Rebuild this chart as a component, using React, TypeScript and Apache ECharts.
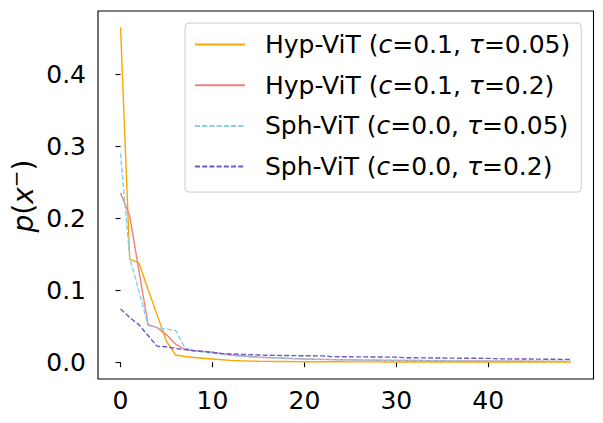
import React, { useEffect, useRef } from "react";
import * as echarts from "echarts";

const xTicks = [0, 10, 20, 30, 40];
const yTicks = [0, 0.1, 0.2, 0.3, 0.4];

const seriesNames = [
  "Hyp-ViT (c=0.1, τ=0.05)",
  "Hyp-ViT (c=0.1, τ=0.2)",
  "Sph-ViT (c=0.0, τ=0.05)",
  "Sph-ViT (c=0.0, τ=0.2)",
];
const legendRich = [
  "{n|Hyp-ViT (}{i|c}{n|=0.1, }{i|τ}{n|=0.05)}",
  "{n|Hyp-ViT (}{i|c}{n|=0.1, }{i|τ}{n|=0.2)}",
  "{n|Sph-ViT (}{i|c}{n|=0.0, }{i|τ}{n|=0.05)}",
  "{n|Sph-ViT (}{i|c}{n|=0.0, }{i|τ}{n|=0.2)}",
];

const hyp005 = [
  0.465, 0.143, 0.138, 0.101, 0.065, 0.029, 0.010, 0.008, 0.0065, 0.0055,
  0.0045, 0.0035, 0.0025, 0.002, 0.0016, 0.0013, 0.0011, 0.001, 0.0009, 0.0008,
  0.0007, 0.0007, 0.0006, 0.0006, 0.0006, 0.0005, 0.0005, 0.0005, 0.0005, 0.0004,
  0.0004, 0.0004, 0.0004, 0.0004, 0.0003, 0.0003, 0.0003, 0.0003, 0.0003, 0.0003,
  0.0003, 0.0003, 0.0003, 0.0003, 0.0003, 0.0003, 0.0003, 0.0003, 0.0003, 0.0003,
];
const hyp02 = [
  0.235, 0.203, 0.127, 0.052, 0.048, 0.038, 0.025, 0.018, 0.016, 0.015,
  0.014, 0.012, 0.010, 0.009, 0.008, 0.007, 0.0065, 0.006, 0.0055, 0.005,
  0.0045, 0.0042, 0.004, 0.0037, 0.0035, 0.0033, 0.003, 0.0029, 0.0028, 0.0026,
  0.0025, 0.0024, 0.0023, 0.0022, 0.0021, 0.002, 0.0019, 0.0018, 0.0017, 0.0016,
  0.0016, 0.0015, 0.0014, 0.0014, 0.0013, 0.0013, 0.0012, 0.0012, 0.0011, 0.0011,
];
const sph005 = [
  0.290, 0.145, 0.099, 0.051, 0.048, 0.046, 0.044, 0.020, 0.016, 0.014,
  0.0125, 0.011, 0.0095, 0.0085, 0.0075, 0.0068, 0.0062, 0.0057, 0.0052, 0.0048,
  0.0044, 0.0041, 0.0038, 0.0036, 0.0034, 0.0032, 0.003, 0.0029, 0.0028, 0.0027,
  0.0026, 0.0025, 0.0024, 0.0023, 0.0022, 0.0021, 0.002, 0.0019, 0.0018, 0.0018,
  0.0017, 0.0016, 0.0016, 0.0015, 0.0015, 0.0014, 0.0014, 0.0013, 0.0013, 0.0012,
];
const sph02 = [
  0.074, 0.062, 0.052, 0.037, 0.022, 0.0215, 0.019, 0.0175, 0.016, 0.015,
  0.0135, 0.012, 0.0115, 0.011, 0.0105, 0.010, 0.0097, 0.0095, 0.0093, 0.0091,
  0.009, 0.0089, 0.0088, 0.0078, 0.0076, 0.0075, 0.0074, 0.0073, 0.0072, 0.0071,
  0.007, 0.0062, 0.0061, 0.006, 0.0059, 0.0058, 0.0057, 0.0056, 0.0055, 0.0054,
  0.0053, 0.0047, 0.0046, 0.0045, 0.0044, 0.0043, 0.0042, 0.0041, 0.004, 0.004,
];

const allValues = [hyp005, hyp02, sph005, sph02];
const colors = ["#FFA500", "#F08080", "#87CEEB", "#6A5ACD"];
const dashed = [false, false, true, true];

const FONT = "DejaVu Sans";

export default function App() {
  const ref = useRef<HTMLDivElement>(null);
  useEffect(() => {
    if (!ref.current) return;
    const chart = echarts.init(ref.current, null, { renderer: "svg" });
    const richMap: Record<string, string> = {};
    seriesNames.forEach((n, i) => (richMap[n] = legendRich[i]));
    chart.setOption({
      animation: false,
      backgroundColor: "#ffffff",
      textStyle: { fontFamily: FONT },
      grid: {
        left: 98,
        top: 11,
        right: 9.5,
        bottom: 44,
        show: true,
        borderColor: "#000000",
        borderWidth: 1.1,
        backgroundColor: "transparent",
      },
      xAxis: {
        type: "value",
        min: -2.45,
        max: 51.45,
        splitLine: { show: false },
        axisLine: { show: false },
        axisTick: {
          show: true,
          inside: false,
          length: 5,
          customValues: xTicks,
          lineStyle: { color: "#000", width: 1.1 },
        },
        axisLabel: {
          customValues: xTicks,
          color: "#000",
          fontSize: 25,
          fontFamily: FONT,
          margin: 9,
          formatter: (v: number) => String(Math.round(v)),
        },
      },
      yAxis: {
        type: "value",
        min: -0.0233,
        max: 0.4875,
        splitLine: { show: false },
        axisLine: { show: false },
        axisTick: {
          show: true,
          inside: false,
          length: 5,
          customValues: yTicks,
          lineStyle: { color: "#000", width: 1.1 },
        },
        axisLabel: {
          customValues: yTicks,
          color: "#000",
          fontSize: 25,
          fontFamily: FONT,
          margin: 12,
          formatter: (v: number) => v.toFixed(1),
        },
      },
      legend: {
        orient: "vertical",
        left: 185,
        top: 23,
        padding: [8, 11, 12, 9],
        itemWidth: 50,
        itemHeight: 14,
        itemGap: 13.7,
        backgroundColor: "rgba(255,255,255,0.8)",
        borderColor: "#cccccc",
        borderWidth: 1,
        borderRadius: 4,
        data: seriesNames,
        itemStyle: { opacity: 0, color: "transparent", borderWidth: 0 },
        formatter: (name: string) => richMap[name] || name,
        textStyle: {
          fontFamily: FONT,
          fontSize: 25,
          lineHeight: 27,
          color: "#000",
          padding: [0, 0, 0, 15],
          rich: {
            n: { fontFamily: FONT, fontSize: 25, color: "#000" },
            i: { fontFamily: FONT, fontSize: 25, fontStyle: "italic", color: "#000" },
          },
        },
      },
      graphic: [
        {
          type: "text",
          x: 23.5,
          y: 196,
          rotation: Math.PI / 2,
          style: {
            text: "{i|p}{n|(}{i|x}{s|−}{n|)}",
            align: "center",
            verticalAlign: "middle",
            fill: "#000",
            rich: {
              i: { fontFamily: FONT, fontSize: 28, fontStyle: "italic", fill: "#000" },
              n: { fontFamily: FONT, fontSize: 28, fill: "#000" },
              s: { fontFamily: FONT, fontSize: 20, fill: "#000", padding: [0, 0, 16, 0] },
            },
          },
        },
      ],
      series: allValues.map((vals, i) => ({
        name: seriesNames[i],
        type: "line",
        data: vals.map((v, k) => [k, v]),
        showSymbol: false,
        symbol: "none",
        color: colors[i],
        lineStyle: {
          color: colors[i],
          width: 1.4,
          type: dashed[i] ? [5, 2.2] : "solid",
        },
        z: 2 + i,
      })),
    });
    return () => chart.dispose();
  }, []);
  return (
    <div
      ref={ref}
      style={{ position: "absolute", left: 0, top: 0, width: 603, height: 423 }}
    />
  );
}
